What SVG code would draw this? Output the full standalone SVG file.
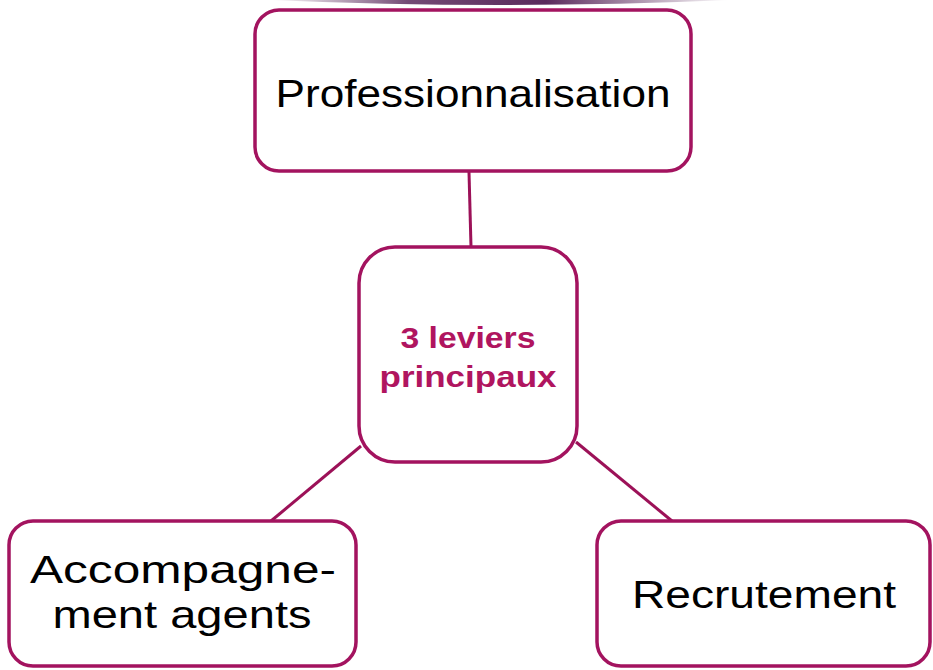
<svg xmlns="http://www.w3.org/2000/svg" width="933" height="670" viewBox="0 0 933 670">
<defs>
<linearGradient id="arc" x1="0" y1="0" x2="1" y2="0">
<stop offset="0" stop-color="#5a2a5c" stop-opacity="0"/>
<stop offset="0.3" stop-color="#5a2a5c" stop-opacity="0.85"/>
<stop offset="0.6" stop-color="#5a2a5c" stop-opacity="1"/>
<stop offset="1" stop-color="#5a2a5c" stop-opacity="0"/>
</linearGradient>
</defs>
<style>
.box{fill:#fff;stroke:#a3135f;stroke-width:3.5}
.conn{stroke:#9c1158;stroke-width:3;fill:none}
.lbl{font-family:"Century Gothic","URW Gothic","Liberation Sans",Arial,sans-serif;font-size:39px;fill:#000;text-anchor:middle}
.ctr{font-family:"Century Gothic","URW Gothic","Liberation Sans",Arial,sans-serif;font-size:30px;font-weight:bold;fill:#b0155f;text-anchor:middle}
</style>
<rect width="933" height="670" fill="#fff"/>
<path d="M270,0 Q500,10 730,0 Z" fill="url(#arc)"/>
<g id="connectors">
<line class="conn" x1="469" y1="172" x2="471" y2="247"/>
<line class="conn" x1="361" y1="446" x2="271" y2="521"/>
<line class="conn" x1="576" y1="442" x2="672" y2="521"/>
</g>
<g id="professionnalisation">
<rect class="box" x="255" y="10" width="436" height="161" rx="24"/>
<text class="lbl" x="473" y="107" textLength="395" lengthAdjust="spacingAndGlyphs">Professionnalisation</text>
</g>
<g id="leviers">
<rect class="box" x="359" y="247" width="218" height="215" rx="36"/>
<text class="ctr" x="468" y="348" textLength="135" lengthAdjust="spacingAndGlyphs">3 leviers</text>
<text class="ctr" x="468" y="387" textLength="177" lengthAdjust="spacingAndGlyphs">principaux</text>
</g>
<g id="accompagnement">
<rect class="box" x="9" y="521" width="347" height="145" rx="24"/>
<text class="lbl" x="183" y="583" textLength="306" lengthAdjust="spacingAndGlyphs">Accompagne-</text>
<text class="lbl" x="182" y="628" textLength="259" lengthAdjust="spacingAndGlyphs">ment agents</text>
</g>
<g id="recrutement">
<rect class="box" x="597" y="521" width="333" height="145" rx="24"/>
<text class="lbl" x="764" y="608" textLength="264" lengthAdjust="spacingAndGlyphs">Recrutement</text>
</g>
</svg>
